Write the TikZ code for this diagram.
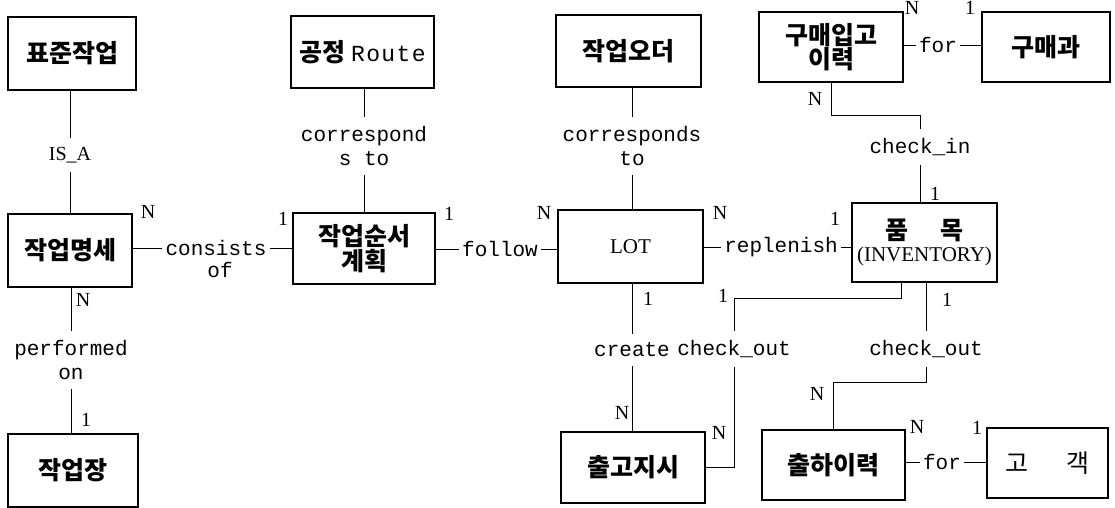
\documentclass[tikz,border=0pt]{standalone}
\usepackage{fontspec}
\setmainfont{Liberation Serif}
\setmonofont{Liberation Mono}
\newfontfamily\kr{Noto Sans CJK KR}
\newfontfamily\routefont{Liberation Mono}[LetterSpace=6]

\begin{document}
\begin{tikzpicture}[x=1pt, y=-1pt, line width=0.8pt,
        ent/.style={draw, line width=1.6pt, inner sep=0pt, align=center, font=\kr\bfseries\fontsize{25}{22}\selectfont},
        rel/.style={inner xsep=3pt, inner ysep=9pt, align=center, font=\ttfamily\fontsize{21}{24}\selectfont},
        card/.style={inner sep=0pt, font=\rmfamily\fontsize{20}{20}\selectfont}]

        \useasboundingbox (0,0) rectangle (1115,508);

        \node[ent, minimum width=128pt, minimum height=73pt] (stdjob) at (72, 53.5) {표준작업};
        \node[ent, minimum width=143pt, minimum height=72pt] (route) at (362.5, 52) {공정 {\routefont\mdseries\fontsize{23}{23}\selectfont Route}};
        \node[ent, minimum width=145pt, minimum height=72pt] (order) at (628.5, 51) {작업오더};
        \node[ent, minimum width=144pt, minimum height=70pt] (purchin) at (831, 47) {구매입고\\이력};
        \node[ent, minimum width=128pt, minimum height=70pt] (purchdept) at (1046, 47) {구매과};
        \node[ent, minimum width=124pt, minimum height=73pt] (jobspec) at (70, 250.5) {작업명세};
        \node[ent, minimum width=142pt, minimum height=71pt] (jobplan) at (364, 248.5) {작업순서\\계획};
        \node[ent, minimum width=145pt, minimum height=73pt, font=\rmfamily\fontsize{21}{21}\selectfont] (lot) at (630.5, 246.5) {LOT};
        \node[ent, minimum width=145pt, minimum height=79pt] (item) at (924.5, 242.5) {품\hspace{1.3em}목\\{\rmfamily\mdseries\fontsize{21}{21}\selectfont (INVENTORY)}};
        \node[ent, minimum width=130pt, minimum height=73pt] (workplace) at (73, 470.5) {작업장};
        \node[ent, minimum width=144pt, minimum height=71pt] (release) at (633, 467.5) {출고지시};
        \node[ent, minimum width=143pt, minimum height=70pt] (shiphist) at (833.5, 465) {출하이력};
        \node[ent, minimum width=121pt, minimum height=70pt, font=\kr\fontsize{25}{22}\selectfont] (customer) at (1047.5, 463) {고\hspace{1.5em}객};

        \node[rel, font=\rmfamily\fontsize{20}{20}\selectfont] (isa) at (70, 155) {IS\_A};
        \node[rel] (corr1) at (364, 146) {correspond\\s to};
        \node[rel] (corr2) at (632, 146) {corresponds\\to};
        \node[rel] (consists) at (216, 248) {consists};
        \node[rel, inner sep=0pt] (consistsof) at (220, 270) {of};
        \node[rel] (follow) at (500, 249) {follow};
        \node[rel] (replenish) at (781, 247) {replenish};
        \node[rel] (forpurch) at (938, 45) {for};
        \node[rel] (checkin) at (920, 147) {check\_in};
        \node[rel] (performed) at (71, 360) {performed\\on};
        \node[rel] (create) at (632, 350) {create};
        \node[rel] (checkout1) at (734, 349) {check\_out};
        \node[rel] (checkout2) at (926, 349) {check\_out};
        \node[rel] (forcust) at (942, 462) {for};

        \draw (stdjob.south -| isa) -- (isa) -- (isa |- jobspec.north);
        \draw (route.south -| corr1) -- (corr1) -- (corr1 |- jobplan.north);
        \draw (order.south -| corr2) -- (corr2) -- (corr2 |- lot.north);
        \draw (jobspec.east |- consists) -- (consists) -- (consists -| jobplan.west);
        \draw (jobplan.east |- follow) -- (follow) -- (follow -| lot.west);
        \draw (lot.east |- replenish) -- (replenish) -- (replenish -| item.west);
        \draw (purchin.east |- forpurch) -- (forpurch) -- (forpurch -| purchdept.west);
        \draw (purchin.south) -- ++(0,33) -| (checkin);
        \draw (checkin) -- (checkin |- item.north);
        \draw (jobspec.south -| performed) -- (performed) -- (performed |- workplace.north);
        \draw (lot.south -| create) -- (create) -- (create |- release.north);
        \draw ([xshift=-23pt]item.south) -- ++(0,16) -| (checkout1);
        \draw (checkout1) |- (release);
        \draw (item.south -| checkout2) -- (checkout2);
        \draw (checkout2.south) -- ++(0,15) -| (shiphist);
        \draw (shiphist.east |- forcust) -- (forcust) -- (forcust -| customer.west);

        \node[card] (specn) at (148, 212) {N};
        \node[card] (planone) at (283, 219) {1};
        \node[card] (plantwo) at (449, 214) {1};
        \node[card] (lotn) at (544, 213) {N};
        \node[card] (lotm) at (720, 213) {N};
        \node[card] (itemone) at (835, 219) {1};
        \node[card] (inone) at (935, 194) {1};
        \node[card] (purchn) at (912, 8) {N};
        \node[card] (deptone) at (970, 8) {1};
        \node[card] (purchm) at (815, 99) {N};
        \node[card] (specm) at (83, 300) {N};
        \node[card] (placeone) at (86, 420) {1};
        \node[card] (lotone) at (648, 299) {1};
        \node[card] (releasen) at (622, 413) {N};
        \node[card] (outone) at (723, 296) {1};
        \node[card] (releasem) at (719, 433) {N};
        \node[card] (outtwo) at (947, 300) {1};
        \node[card] (shipn) at (817, 394) {N};
        \node[card] (shipm) at (917, 427) {N};
        \node[card] (custone) at (977, 428) {1};

    \end{tikzpicture}
\end{document}
